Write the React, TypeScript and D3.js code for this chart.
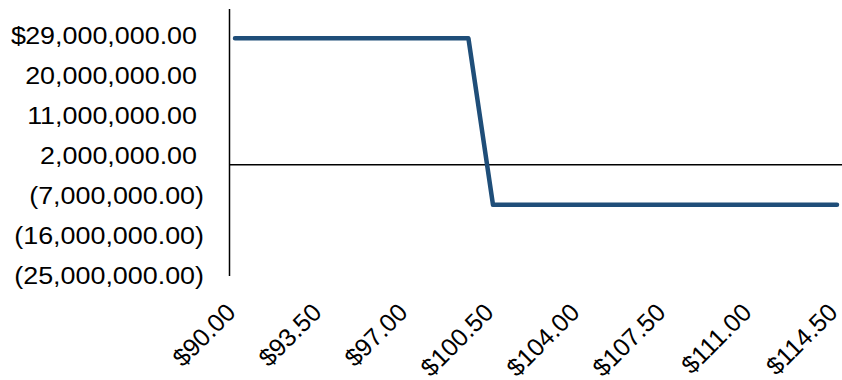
import React from "react";
import * as d3 from "d3";

// Payoff profile by underlying price (break points of the line)
const prices = [90, 99.5, 100.5, 114.5];
const payoffs = [28.4e6, 28.4e6, -9.0e6, -9.0e6];

// Axis ticks
const yTicks = [29e6, 20e6, 11e6, 2e6, -7e6, -16e6, -25e6];
const xTicks = [90, 93.5, 97, 100.5, 104, 107.5, 111, 114.5];

const W = 842;
const H = 380;
const FONT = "'Liberation Sans', Arial, sans-serif";
const STRETCH = 1.12;

const fmt = d3.format(",.2f");

export default function App() {
  const x = d3.scaleLinear().domain([90, 114.5]).range([235, 837]);
  const y = d3.scaleLinear().domain([-25e6, 35e6]).range([276, 9]);

  const pts: [number, number][] = prices.map((p, i) => [p, payoffs[i]]);
  const line = d3
    .line<[number, number]>()
    .x((d) => x(d[0]))
    .y((d) => y(d[1]));

  return (
    <svg
      width={W}
      height={H}
      style={{ position: "absolute", left: 0, top: 0, background: "#fff" }}
      fontFamily={FONT}
    >
      {/* vertical axis */}
      <line x1={229.5} x2={229.5} y1={9} y2={276} stroke="#000" strokeWidth={1.5} />
      {/* zero line */}
      <line x1={229.5} x2={W} y1={y(0)} y2={y(0)} stroke="#000" strokeWidth={1.5} />

      {/* y tick labels, accounting style */}
      {yTicks.map((v, i) => {
        const neg = v < 0;
        const txt = neg ? `(${fmt(-v)})` : fmt(v);
        return (
          <g key={v}>
            <text
              transform={`translate(${neg ? 204 : 197},${y(v)}) scale(${STRETCH},1)`}
              dy="0.35em"
              textAnchor="end"
              fontSize={24}
              fill="#000"
            >
              {txt}
            </text>
            {i === 0 && (
              <text
                transform={`translate(11,${y(v)}) scale(${STRETCH},1)`}
                dy="0.35em"
                fontSize={24}
                fill="#000"
              >
                $
              </text>
            )}
          </g>
        );
      })}

      {/* x tick labels */}
      {xTicks.map((v) => (
        <text
          key={v}
          transform={`translate(${x(v) + 2},314) rotate(-45)`}
          textAnchor="end"
          fontSize={25}
          fill="#000"
        >
          {`$${fmt(v)}`}
        </text>
      ))}

      <path
        d={line(pts) ?? ""}
        fill="none"
        stroke="#1F4E79"
        strokeWidth={4.5}
        strokeLinecap="round"
        strokeLinejoin="round"
      />
    </svg>
  );
}
